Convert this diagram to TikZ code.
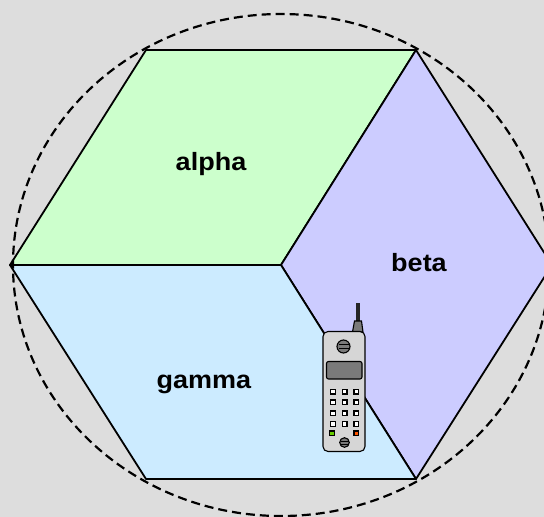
\documentclass[tikz,border=0pt]{standalone}
\usepackage{fontspec}
\setmainfont{Liberation Sans}
\definecolor{bg}{HTML}{DDDDDD}
\definecolor{alphafill}{HTML}{CCFFCC}
\definecolor{betafill}{HTML}{CCCCFF}
\definecolor{gammafill}{HTML}{CCEBFF}
\definecolor{phonebody}{HTML}{D6D6D6}
\definecolor{phonedark}{HTML}{7A7A7A}
\definecolor{keygreen}{HTML}{66CC00}
\definecolor{keyred}{HTML}{FF5500}
\tikzset{
  sector/.style={draw=black, line width=1.8pt, line join=round},
  sectorlabel/.style={font=\fontsize{25}{28}\selectfont\bfseries, xscale=1.08, anchor=base},
  cellrange/.style={draw=black, line width=2.2pt, dash pattern=on 9pt off 5pt},
  phoneline/.style={draw=black, line width=1.1pt},
  phonekey/.style={draw=black, line width=1.2pt, fill=white},
}
\begin{document}
\begin{tikzpicture}[x=1pt,y=-1pt]
\fill[bg] (0,0) rectangle (544,517);
\useasboundingbox (0,0) rectangle (544,517);
\clip (0,0) rectangle (544,517);

% hexagon corners and centre
\coordinate (C)  at (281,265);
\coordinate (L)  at (10,265);
\coordinate (TL) at (146,50);
\coordinate (TR) at (416,50);
\coordinate (R)  at (552,265);
\coordinate (BR) at (416,479);
\coordinate (BL) at (146,479);

% three sectors
\filldraw[sector, fill=alphafill] (L) -- (TL) -- (TR) -- (C) -- cycle;
\filldraw[sector, fill=betafill]  (C) -- (TR) -- (R) -- (BR) -- cycle;
\filldraw[sector, fill=gammafill] (L) -- (C) -- (BR) -- (BL) -- cycle;

% coverage boundary
\draw[cellrange] (C) ellipse [x radius=268, y radius=251];

% sector names
\node[sectorlabel] (alpha) at (211,170.5) {alpha};
\node[sectorlabel] (beta)  at (419,271)   {beta};
\node[sectorlabel] (gamma) at (204,388)   {gamma};

% handset
\fill[black!85] (356,303) rectangle (360,321);
\filldraw[phoneline, fill=phonedark] (354.5,321) -- (361.5,321) -- (363,332) -- (352.5,332) -- cycle;
\filldraw[phoneline, fill=phonebody, rounded corners=5pt] (323,331.5) rectangle (365,451.5);
% earpiece
\filldraw[phoneline, fill=phonedark] (343.5,346.5) circle (6.5);
\draw[black, line width=0.8pt] (338.5,344.5) -- (348.5,344.5);
\draw[black, line width=0.8pt] (338.5,348.5) -- (348.5,348.5);
% display
\filldraw[phoneline, fill=phonedark, rounded corners=2pt] (326.5,361.5) rectangle (362,379);
% keypad
\foreach \kx in {333,344.7,356.3}
  \foreach \ky in {391.7,402.3,413.3,424}
    \filldraw[phonekey] (\kx-2.3,\ky-2.3) rectangle ++(4.6,4.6);
\filldraw[phonekey, fill=keygreen] (329.7,431) rectangle ++(4.6,4.6);
\filldraw[phonekey, fill=keyred]   (354,431) rectangle ++(4.6,4.6);
% mouthpiece
\filldraw[phoneline, fill=phonedark] (344.5,442.5) circle (4.8);
\draw[black, line width=0.7pt] (340.5,441) -- (348.5,441);
\draw[black, line width=0.7pt] (340.5,444) -- (348.5,444);
\end{tikzpicture}
\end{document}
